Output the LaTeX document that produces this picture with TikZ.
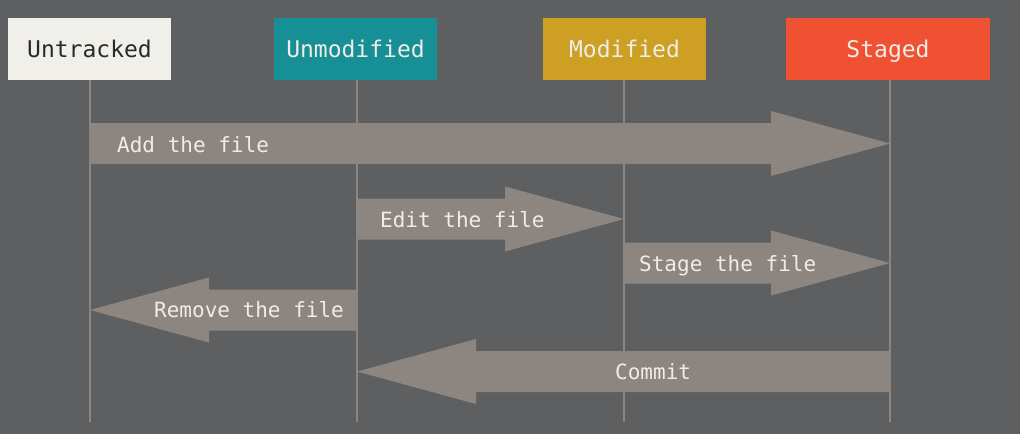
\documentclass[tikz,border=0pt]{standalone}
\usepackage{fontspec}
\setmonofont{DejaVu Sans Mono}
\usetikzlibrary{calc}
\definecolor{bg}{HTML}{5E5F61}
\definecolor{arrowgray}{HTML}{8D8680}
\definecolor{lightbox}{HTML}{F0EFE9}
\definecolor{teal}{HTML}{178F97}
\definecolor{gold}{HTML}{CDA024}
\definecolor{redbox}{HTML}{F05133}
\definecolor{lighttext}{HTML}{EEEDE6}
\definecolor{darktext}{HTML}{2A2A2A}
\newcommand\flowarrow[2]{%
  \fill[arrowfill] let \p1=(#1), \p2=(#2), \p3=($(#2)!119pt!(#1)$) in
    (\x1,\y1+20.5pt) -- (\x3,\y1+20.5pt) -- (\x3,\y1+32.5pt) -- (\x2,\y1)
    -- (\x3,\y1-32.5pt) -- (\x3,\y1-20.5pt) -- (\x1,\y1-20.5pt) -- cycle;}
\begin{document}
\begin{tikzpicture}[x=1pt,y=-1pt,
  statebox/.style={minimum height=62pt, inner sep=0pt, text height=16pt, text depth=0pt,
    font=\ttfamily\fontsize{23}{23}\selectfont, text=lighttext},
  lifeline/.style={draw=arrowgray, line width=1.5pt},
  arrowfill/.style={fill=arrowgray},
  lbl/.style={anchor=base west, inner sep=0pt, text=lighttext,
    font=\ttfamily\fontsize{21}{21}\selectfont}]
\fill[bg] (0,0) rectangle (1020,434);
\useasboundingbox (0,0) rectangle (1020,434);
% states
\node[statebox, fill=lightbox, text=darktext, minimum width=163pt] (untr) at (89.5,49) {Untracked};
\node[statebox, fill=teal, minimum width=163pt] (unmod) at (355.5,49) {Unmodified};
\node[statebox, fill=gold, minimum width=163pt] (mod) at (624.5,49) {Modified};
\node[statebox, fill=redbox, minimum width=204pt] (stg) at (888,49) {Staged};
% lifeline positions
\coordinate (l1) at (90,0);
\coordinate (l2) at (357,0);
\coordinate (l3) at (624,0);
\coordinate (l4) at (890,0);
\coordinate (bot) at (0,422);
\draw[lifeline] (untr.south -| l1) -- (l1 |- bot);
\draw[lifeline] (unmod.south -| l2) -- (l2 |- bot);
\draw[lifeline] (mod.south -| l3) -- (l3 |- bot);
\draw[lifeline] (stg.south -| l4) -- (l4 |- bot);
% rows
\coordinate (r1) at (0,143.5);
\coordinate (r2) at (0,219);
\coordinate (r3) at (0,263);
\coordinate (r4) at (0,310);
\coordinate (r5) at (0,371.5);
\coordinate (a1) at (l1 |- r1);
\coordinate (b1) at (l4 |- r1);
\coordinate (a2) at (l2 |- r2);
\coordinate (b2) at (l3 |- r2);
\coordinate (a3) at (l3 |- r3);
\coordinate (b3) at (l4 |- r3);
\coordinate (a4) at (l2 |- r4);
\coordinate (b4) at (l1 |- r4);
\coordinate (a5) at (l4 |- r5);
\coordinate (b5) at (l2 |- r5);
% arrows
\flowarrow{a1}{b1}
\flowarrow{a2}{b2}
\flowarrow{a3}{b3}
\flowarrow{a4}{b4}
\flowarrow{a5}{b5}
% labels
\node[lbl] (t1) at (117,152) {Add the file};
\node[lbl] (t2) at (380,227) {Edit the file};
\node[lbl] (t3) at (639,271) {Stage the file};
\node[lbl] (t4) at (154,317.5) {Remove the file};
\node[lbl] (t5) at (615,379) {Commit};
\end{tikzpicture}
\end{document}
